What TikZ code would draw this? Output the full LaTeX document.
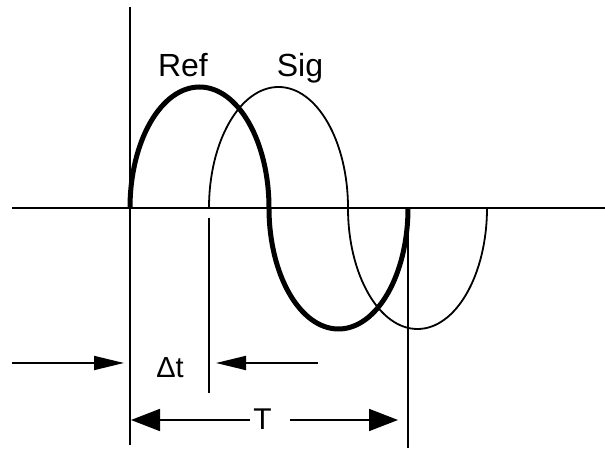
\documentclass[tikz,border=0pt]{standalone}
\usepackage{fontspec}
\setmainfont{Liberation Sans}
\usetikzlibrary{arrows.meta}

\begin{document}
\begin{tikzpicture}[
  x=1pt, y=1pt,
  axis/.style={line width=2pt},
  refwave/.style={line width=5pt},
  sigwave/.style={line width=1.8pt},
  dimline/.style={line width=1.8pt},
  smallhead/.style={-{Triangle[length=30pt,width=14pt]}},
  bighead/.style={-{Triangle[length=29pt,width=22pt]}},
  lbl/.style={inner sep=0pt, anchor=base, font=\fontsize{32}{38}\selectfont}
]
\useasboundingbox (0,0) rectangle (605,449);
\coordinate (xl) at (12,241);
\coordinate (xr) at (605,241);
\coordinate (ytop) at (130,442);
\coordinate (ybot) at (130,4);
\coordinate (dttop) at (209,231);
\coordinate (dtbot) at (209,56);
\coordinate (ttop) at (408,241);
\coordinate (tbot) at (408,1);
\coordinate (refstart) at (130,241);
\coordinate (sigstart) at (209,241);
\coordinate (a1) at (12,86);
\coordinate (a1tip) at (124,86);
\coordinate (a2) at (318,86);
\coordinate (a2tip) at (216,86);
\coordinate (t1) at (250,29);
\coordinate (t1tip) at (131,29);
\coordinate (t2) at (290,29);
\coordinate (t2tip) at (398,29);
% axes and marker lines
\draw[axis] (xl) -- (xr);
\draw[axis] (ytop) -- (ybot);
\draw[axis] (dttop) -- (dtbot);
\draw[axis] (ttop) -- (tbot);
% waves
\draw[sigwave] (sigstart) arc[start angle=180, end angle=0, x radius=69.5, y radius=121]
  arc[start angle=180, end angle=360, x radius=69.5, y radius=121];
\draw[refwave] (refstart) arc[start angle=180, end angle=0, x radius=69.5, y radius=121]
  arc[start angle=180, end angle=360, x radius=69.5, y radius=121];
% labels
\node[lbl] (ref) at (183,372) {Ref};
\node[lbl] (sig) at (300,372) {Sig};
\node[lbl, font=\fontsize{29}{34}\selectfont] (dt) at (170,71) {Δt};
\node[lbl, font=\fontsize{30}{36}\selectfont] (per) at (262.5,19) {T};
% dimension arrows
\draw[dimline, smallhead] (a1) -- (a1tip);
\draw[dimline, smallhead] (a2) -- (a2tip);
\draw[dimline, bighead] (t1) -- (t1tip);
\draw[dimline, bighead] (t2) -- (t2tip);
\end{tikzpicture}
\end{document}
